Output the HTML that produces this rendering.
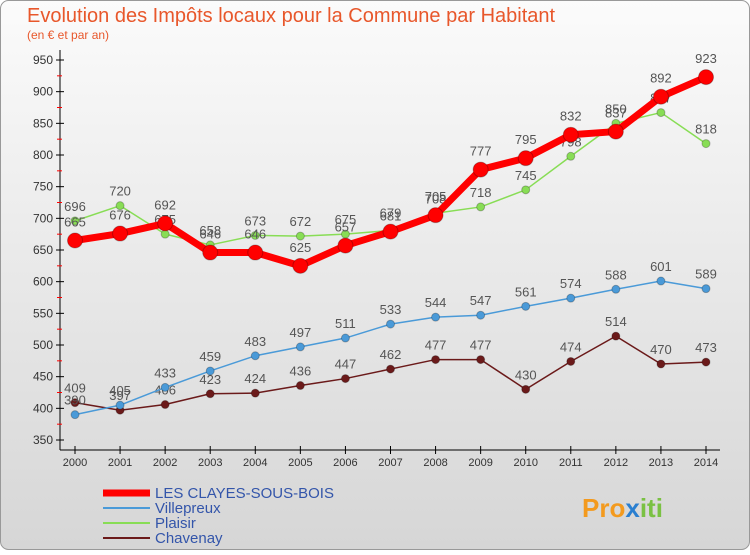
<!DOCTYPE html>
<html><head><meta charset="utf-8"><style>
body{margin:0;width:750px;height:550px;overflow:hidden;font-family:"Liberation Sans",sans-serif}
</style></head><body>
<svg width="750" height="550" xmlns="http://www.w3.org/2000/svg">
<defs><linearGradient id="bg" x1="0" y1="0" x2="0" y2="1"><stop offset="0" stop-color="#fbfbfb"/><stop offset="1" stop-color="#d6d6d6"/></linearGradient></defs>
<rect x="0.5" y="0.5" width="749" height="549" rx="8" fill="url(#bg)" stroke="#999"/>
<text x="27" y="22" font-size="20" fill="#e8572b">Evolution des Impôts locaux pour la Commune par Habitant</text>
<text x="27" y="39" font-size="12" fill="#e8572b">(en € et par an)</text>
<g id="axes"></g><g id="series"></g>
<g font-size="15">
<line x1="103" y1="493" x2="150" y2="493" stroke="#f00" stroke-width="7"/>
<text x="155" y="498" fill="#3355aa">LES CLAYES-SOUS-BOIS</text>
<line x1="103" y1="508" x2="150" y2="508" stroke="#4a9ad8" stroke-width="2"/>
<text x="155" y="513" fill="#3355aa">Villepreux</text>
<line x1="103" y1="523" x2="150" y2="523" stroke="#88dd55" stroke-width="2"/>
<text x="155" y="528" fill="#3355aa">Plaisir</text>
<line x1="103" y1="538" x2="150" y2="538" stroke="#6b1a1a" stroke-width="2"/>
<text x="155" y="543" fill="#3355aa">Chavenay</text>
</g>
<text x="582" y="517" font-size="26" font-weight="bold" fill="#f39a1e">Pro<tspan fill="#2a7fd0">x</tspan><tspan fill="#7ac143">iti</tspan></text>
</svg>
<script>
const years=[2000,2001,2002,2003,2004,2005,2006,2007,2008,2009,2010,2011,2012,2013,2014];
const yTicks=[350,400,450,500,550,600,650,700,750,800,850,900,950];
const clayes=[665,676,692,646,646,625,657,679,705,777,795,832,837,892,923];
const villepreux=[390,405,433,459,483,497,511,533,544,547,561,574,588,601,589];
const plaisir=[696,720,675,658,673,672,675,681,708,718,745,798,850,867,818];
const chavenay=[409,397,406,423,424,436,447,462,477,477,430,474,514,470,473];
const NS="http://www.w3.org/2000/svg";
const xs=i=>75+i*(706-75)/14;
const ys=v=>440-(v-350)*(380/600);
function mk(t,a,p){const e=document.createElementNS(NS,t);for(const k in a)e.setAttribute(k,a[k]);p.appendChild(e);return e;}
const ax=document.getElementById('axes');
const yAxis=mk('line',{x1:60,y1:50,x2:60,y2:450,stroke:'#000'},ax);


const xAxis=mk('line',{x1:60,y1:450,x2:720,y2:450,stroke:'#000'},ax);


yTicks.forEach(v=>{const y=ys(v);
mk('line',{x1:56,y1:y,x2:64,y2:y,stroke:'#000'},ax);
if(v<950)mk('line',{x1:57,y1:ys(v+25),x2:62,y2:ys(v+25),stroke:'#f00'},ax);
const t=mk('text',{x:53,y:y+4,'text-anchor':'end','font-size':12,fill:'#333'},ax);t.textContent=v;

});
years.forEach((yr,i)=>{const x=xs(i);mk('line',{x1:x,y1:446,x2:x,y2:454,stroke:'#000'},ax);
const t=mk('text',{x:x,y:466,'text-anchor':'middle','font-size':11,fill:'#333'},ax);t.textContent=yr;

});
const sg=document.getElementById('series');
function draw(data,name,color,w,r,dy){
const g=mk('g',{},sg);


const l=mk('polyline',{points:data.map((v,i)=>xs(i)+','+ys(v)).join(' '),fill:'none',stroke:color,'stroke-width':w,'stroke-linejoin':'round'},g);


data.forEach((v,i)=>{const c=mk('circle',{cx:xs(i),cy:ys(v),r:r,fill:color,stroke:'rgba(0,0,0,0.25)'},g);


const t=mk('text',{x:xs(i),y:ys(v)+dy,'text-anchor':'middle','font-size':13,fill:'#555'},g);t.textContent=v;

});}
draw(chavenay,'chavenay','#6b1a1a',1.5,4,-10);
draw(villepreux,'villepreux','#4a9ad8',1.5,4,-10);
draw(plaisir,'plaisir','#88dd55',1.5,4,-10);
draw(clayes,'les-clayes','#f00',7,7.5,-14);
</script>
</body></html>
